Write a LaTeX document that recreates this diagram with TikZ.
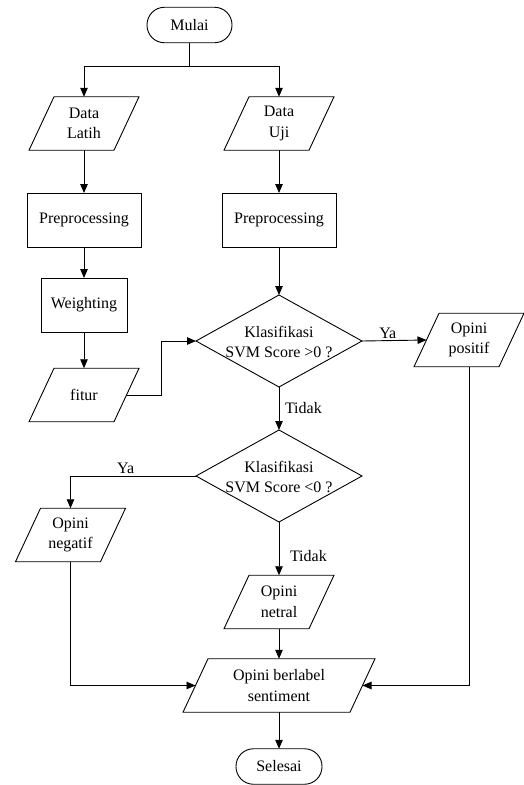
\documentclass[tikz,border=0pt]{standalone}
\usepackage{fontspec}
\setmainfont{Liberation Serif}
\usetikzlibrary{shapes.geometric,arrows.meta}

\begin{document}
\begin{tikzpicture}[x=1pt,y=-1pt,
  every node/.style={font=\fontsize{16pt}{20.5pt}\selectfont, align=center, inner sep=0pt, outer sep=0pt},
  line/.style={line width=0.9pt},
  arr/.style={line, -{Triangle[length=9pt,width=7.5pt]}},
  terminal/.style={draw, line width=0.9pt, rounded corners=17.5pt, minimum height=35.5pt},
  proc/.style={draw, line width=0.9pt, minimum height=54pt},
  io/.style={minimum height=53.5pt, minimum width=85pt},
  dec/.style={draw, line width=0.9pt, diamond, minimum width=166pt, minimum height=92pt},
  lbl/.style={inner sep=2pt}
]
\useasboundingbox (0,0) rectangle (523,785);

% start / end
\node[terminal, minimum width=85pt] (mulai) at (189.5,25) {Mulai};
\node[terminal, minimum width=86pt] (selesai) at (279,766.5) {Selesai};

% inputs and processing steps
\node[io] (latih) at (84,123.5) {Data\\Latih};
\node[io] (uji) at (279,123.5) {Data\\Uji};
\node[proc, minimum width=114pt] (prepl) at (84,220) {Preprocessing};
\node[proc, minimum width=114pt] (prepr) at (279,220) {Preprocessing};
\node[proc, minimum width=86pt] (weight) at (84,305) {Weighting};
\node[io] (fitur) at (84,395) {fitur};

% decisions
\node[dec] (d1) at (279,341) {};
\node (d1t) at (279,342) {Klasifikasi\\SVM Score >0 ?};
\node[dec] (d2) at (279,476) {};
\node (d2t) at (279,477) {Klasifikasi\\SVM Score <0 ?};

% outputs
\node[io] (pos) at (469,340) {Opini\\positif};
\node[io] (neg) at (70.5,535) {Opini\\negatif};
\node[io] (netral) at (279,602) {Opini\\netral};
\node[io, minimum width=167pt] (hasil) at (279,685.5) {Opini berlabel\\sentiment};

% parallelogram outlines around the data nodes
\foreach \n in {latih,uji,fitur,pos,neg,netral,hasil}
  \draw[line] ([xshift=12.5pt]\n.north west) -- ([xshift=12.5pt]\n.north east)
    -- ([xshift=-12.5pt]\n.south east) -- ([xshift=-12.5pt]\n.south west) -- cycle;

% connectors
\coordinate (split) at (189.5,66);
\draw[line] (mulai.south) -- (split);
\draw[arr] (split) -| (latih.north);
\draw[arr] (split) -| (uji.north);
\draw[arr] (latih.south) -- (prepl.north);
\draw[arr] (prepl.south) -- (weight.north);
\draw[arr] (weight.south) -- (fitur.north);
\draw[arr] (uji.south) -- (prepr.north);
\draw[arr] (prepr.south) -- (d1.north);
\draw[arr] (fitur.east) -- ++(35,0) |- (d1.west);
\draw[arr] (d1.east) -- node[lbl, above, pos=0.4] (ya1) {Ya} (pos.west);
\draw[arr] (d1.south) -- node[lbl, right, pos=0.5, xshift=4pt] (tidak1) {Tidak} (d2.north);
\draw[arr] (d2.west) -| node[lbl, above, pos=0.28] (ya2) {Ya} (neg.north);
\draw[arr] (d2.south) -- node[lbl, right, pos=0.64, xshift=9pt] (tidak2) {Tidak} (netral.north);
\draw[arr] (netral.south) -- (hasil.north);
\draw[arr] (neg.south) |- (hasil.west);
\draw[arr] (pos.south) |- (hasil.east);
\draw[arr] (hasil.south) -- (selesai.north);
\end{tikzpicture}
\end{document}
